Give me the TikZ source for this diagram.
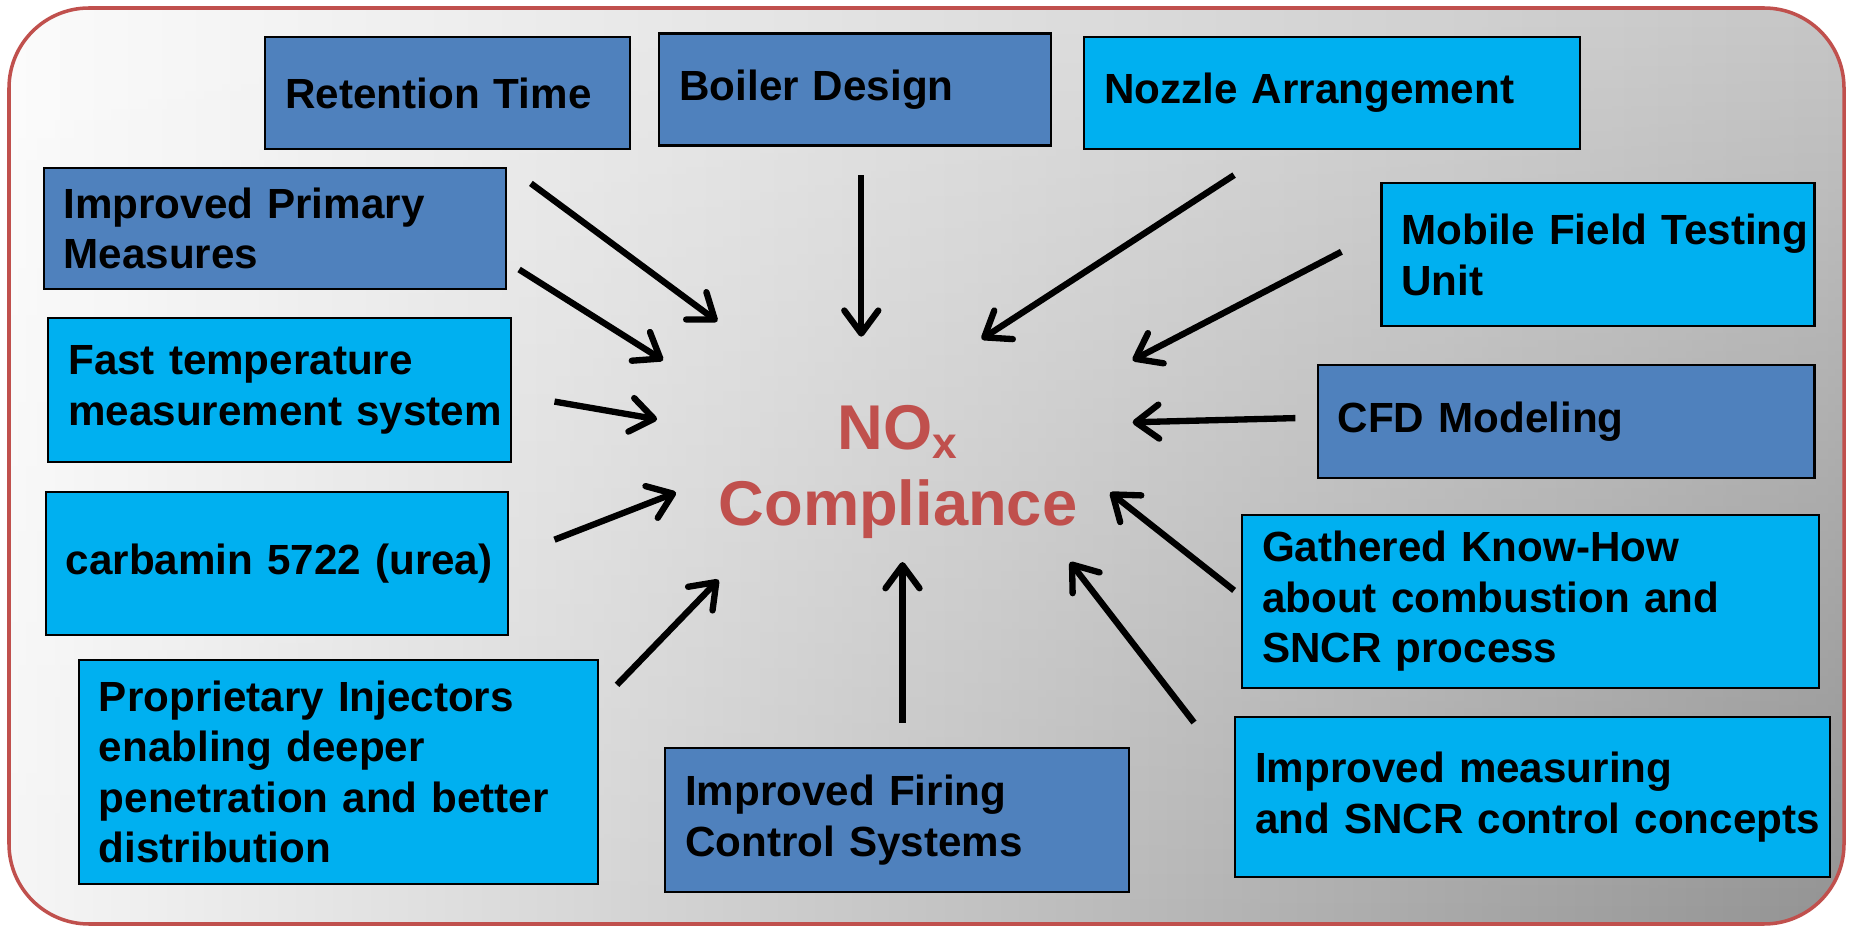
\documentclass[tikz,border=0pt]{standalone}
\usepackage{fontspec}
\setmainfont{Liberation Sans}
\usetikzlibrary{arrows.meta,fadings}
\hyphenpenalty=10000
\exhyphenpenalty=10000

\definecolor{boxblue}{HTML}{4F81BD}
\definecolor{boxcyan}{HTML}{00B0F0}
\definecolor{noxred}{HTML}{C0504D}
\definecolor{bgtopl}{HTML}{FCFCFC}
\definecolor{bgtopr}{HTML}{C6C6C6}
\definecolor{bgbotl}{HTML}{F6F6F6}
\definecolor{bgbotr}{HTML}{939393}

\tikzset{
  frame/.style={draw=noxred, line width=1pt, rounded corners=0.8cm},
  factor/.style={draw=black, line width=0.6pt, anchor=north west, align=left,
    inner xsep=0.2cm, inner ysep=0pt, font=\bfseries\fontsize{12}{14.4}\selectfont},
  goal/.style={text=noxred, align=center, font=\bfseries\fontsize{18}{21.6}\selectfont},
  feed/.style={line width=1.8pt, -{Straight Barb[length=2.3mm,width=3.4mm,round]}}
}

\begin{document}
\begin{tikzpicture}
\useasboundingbox (0,0) rectangle (18.5,9.29);
\shade[rounded corners=0.8cm, left color=bgtopl, right color=bgtopr] (0.09,0.05) rectangle (18.44,9.21);
\shade[rounded corners=0.8cm, left color=bgbotl, right color=bgbotr, path fading=north] (0.09,0.05) rectangle (18.44,9.21);
\draw[frame] (0.09,0.05) rectangle (18.44,9.21);

\node[factor, fill=boxblue, text width=3.246cm, minimum height=1.121cm] (ret) at (2.643,8.931) {Retention Time};
\node[factor, fill=boxblue, text width=3.517cm, minimum height=1.121cm] (boiler) at (6.583,8.966) {Boiler Design};
\node[factor, fill=boxcyan, text width=4.555cm, minimum height=1.121cm] (nozzle) at (10.831,8.931) {Nozzle Arrangement};
\node[factor, fill=boxblue, text width=4.225cm, minimum height=1.215cm] (primary) at (0.425,7.622) {Improved Primary\\Measures};
\node[factor, fill=boxcyan, text width=3.930cm, minimum height=1.428cm] (mobile) at (13.804,7.468) {Mobile~Field~Testing\\Unit};
\node[factor, fill=boxcyan, text width=4.225cm, minimum height=1.439cm] (fasttemp) at (0.472,6.123) {Fast temperature\\measurement~system};
\node[factor, fill=boxblue, text width=4.567cm, minimum height=1.133cm] (cfd) at (13.167,5.651) {CFD Modeling};
\node[factor, fill=boxcyan, text width=4.225cm, minimum height=1.428cm] (urea) at (0.448,4.377) {carbamin~5722~(urea)};
\node[factor, fill=boxcyan, text width=5.369cm, minimum height=1.734cm] (knowhow) at (12.411,4.153) {Gathered Know-How\\about combustion and\\SNCR process};
\node[factor, fill=boxcyan, text width=4.791cm, minimum height=2.242cm] (injectors) at (0.779,2.702) {Proprietary Injectors\\enabling deeper\\penetration and better\\distribution};
\node[factor, fill=boxblue, text width=4.237cm, minimum height=1.439cm] (firing) at (6.642,1.817) {Improved Firing\\Control Systems};
\node[factor, fill=boxcyan, text width=5.546cm, minimum height=1.605cm] (measuring) at (12.341,2.135) {Improved measuring\\and~SNCR~control~concepts};

\node[goal] (nox) at (8.98,4.57) {NO\textsubscript{x}\\Compliance};

\coordinate (ret0) at (5.309,7.456);
\coordinate (ret1) at (7.173,6.076);
\coordinate (primary0) at (5.191,6.595);
\coordinate (primary1) at (6.630,5.687);
\coordinate (fasttemp0) at (5.545,5.274);
\coordinate (fasttemp1) at (6.571,5.097);
\coordinate (urea0) at (5.545,3.893);
\coordinate (urea1) at (6.760,4.365);
\coordinate (injectors0) at (6.170,2.442);
\coordinate (injectors1) at (7.185,3.492);
\coordinate (boiler0) at (8.613,7.539);
\coordinate (boiler1) at (8.613,5.923);
\coordinate (nozzle0) at (12.341,7.539);
\coordinate (nozzle1) at (9.816,5.899);
\coordinate (mobile0) at (13.414,6.772);
\coordinate (mobile1) at (11.326,5.687);
\coordinate (cfd0) at (12.954,5.109);
\coordinate (cfd1) at (11.326,5.067);
\coordinate (knowhow0) at (12.341,3.386);
\coordinate (knowhow1) at (11.102,4.365);
\coordinate (measuring0) at (11.940,2.065);
\coordinate (measuring1) at (10.701,3.669);
\coordinate (firing0) at (9.025,2.065);
\coordinate (firing1) at (9.025,3.669);

\draw[feed] (ret0) -- (ret1);
\draw[feed] (primary0) -- (primary1);
\draw[feed] (fasttemp0) -- (fasttemp1);
\draw[feed] (urea0) -- (urea1);
\draw[feed] (injectors0) -- (injectors1);
\draw[feed] (boiler0) -- (boiler1);
\draw[feed] (nozzle0) -- (nozzle1);
\draw[feed] (mobile0) -- (mobile1);
\draw[feed] (cfd0) -- (cfd1);
\draw[feed] (knowhow0) -- (knowhow1);
\draw[feed] (measuring0) -- (measuring1);
\draw[feed] (firing0) -- (firing1);
\end{tikzpicture}
\end{document}
